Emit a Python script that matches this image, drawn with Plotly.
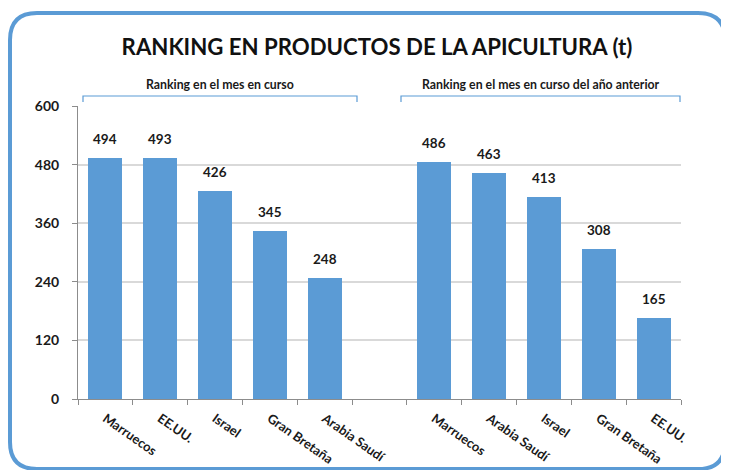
import plotly.graph_objects as go

# ---- data ----
cats_current = ["Marruecos", "EE.UU.", "Israel", "Gran Bretaña", "Arabia Saudí"]
vals_current = [494, 493, 426, 345, 248]
cats_previous = ["Marruecos", "Arabia Saudí", "Israel", "Gran Bretaña", "EE.UU."]
vals_previous = [486, 463, 413, 308, 165]
y_ticks = [0, 120, 240, 360, 480, 600]
title_text = "RANKING EN PRODUCTOS DE LA APICULTURA (t)"
group_labels = ["Ranking en el mes en curso", "Ranking en el mes en curso del año anterior"]

OFF = 8  # page body margin
W, H = 729 - OFF, 470 - OFF
# plot area in screen pixels: x 78..681, y 106..399
ML, MR, MT, MB = 78 - OFF, W - (681 - OFF), 106 - OFF, H - (399 - OFF)
PW, PH = W - ML - MR, H - MT - MB

def px(xs):
    return (xs - OFF - ML) / PW

def py(ys):
    return (H - MB - (ys - OFF)) / PH

FONT = "Lato, 'Open Sans', sans-serif"
BLUE = "#5b9bd5"

x_cur = list(range(len(cats_current)))
x_prev = [len(cats_current) + 1 + i for i in range(len(cats_previous))]
all_x = x_cur + x_prev
all_text = cats_current + cats_previous
all_vals = vals_current + vals_previous

fig = go.Figure()
fig.add_trace(go.Bar(x=all_x, y=all_vals, marker=dict(color=BLUE, line=dict(width=0)),
                     width=0.62, hoverinfo="y", showlegend=False))

annotations = []
for xv, v in zip(all_x, all_vals):
    annotations.append(dict(x=xv, y=v, xref="x", yref="y", text=f"<b>{v}</b>",
                            showarrow=False, yanchor="bottom", yshift=9,
                            font=dict(family=FONT, size=13.5, color="#1a1a1a")))

# group labels and brackets
brackets = [(83, 357), (401, 680)]
shapes = []
for (x0, x1), lab in zip(brackets, group_labels):
    annotations.append(dict(x=px((x0 + x1) / 2), y=py(84), xref="paper", yref="paper",
                            text=f"<b>{lab}</b>", showarrow=False, xanchor="center", yanchor="middle",
                            font=dict(family=FONT, size=12.3, color="#1a1a1a")))
    shapes.append(dict(type="path", xref="paper", yref="paper",
                       path=f"M {px(x0)},{py(102)} L {px(x0)},{py(96)} L {px(x1)},{py(96)} L {px(x1)},{py(102)}",
                       line=dict(color=BLUE, width=1.2)))

# rounded outer border (screen px: x 10..725, y 13..469)
bx0, bx1, by0, by1 = px(10), px(725), py(13), py(469)
rx, ry = 27 / PW, 27 / PH
path = (f"M {bx0+rx},{by0} L {bx1-rx},{by0} Q {bx1},{by0} {bx1},{by0-ry} "
        f"L {bx1},{by1+ry} Q {bx1},{by1} {bx1-rx},{by1} L {bx0+rx},{by1} "
        f"Q {bx0},{by1} {bx0},{by1+ry} L {bx0},{by0-ry} Q {bx0},{by0} {bx0+rx},{by0} Z")
shapes.append(dict(type="path", xref="paper", yref="paper", path=path,
                   line=dict(color=BLUE, width=4), layer="below"))

fig.update_layout(
    width=W, height=H,
    margin=dict(l=ML, r=MR, t=MT, b=MB, autoexpand=False),
    paper_bgcolor="white", plot_bgcolor="white",
    title=dict(text=f"<b>{title_text}</b>", x=(377 - OFF) / W, xanchor="center",
               y=1 - (47 - OFF) / H, yanchor="middle",
               font=dict(family=FONT, size=22.2, color="#111111")),
    xaxis=dict(range=[-0.5, len(all_x) + 0.5], tickmode="array", tickvals=all_x,
               ticktext=[f"<b>{t}</b>" for t in all_text], tickangle=35, ticks="",
               showline=True, linecolor="#8c8c8c", linewidth=1, automargin=False,
               tickfont=dict(family=FONT, size=13, color="#1a1a1a"), ticklabelstandoff=6,
               minor=dict(ticks="outside", tick0=-0.5, dtick=1, ticklen=5, tickcolor="#8c8c8c", showgrid=False),
               showgrid=False, zeroline=False, fixedrange=True),
    yaxis=dict(range=[0, 600], tickmode="array", tickvals=y_ticks,
               ticktext=[f"<b>{t}</b>" for t in y_ticks], automargin=False,
               showline=True, linecolor="#8c8c8c", linewidth=1, ticks="outside", ticklen=5,
               tickcolor="#8c8c8c", gridcolor="#d9d9d9", gridwidth=1.5, zeroline=False,
               tickfont=dict(family=FONT, size=14, color="#1a1a1a"), ticklabelstandoff=10),
    annotations=annotations, shapes=shapes, bargap=0,
)

fig.write_html("out.html")
